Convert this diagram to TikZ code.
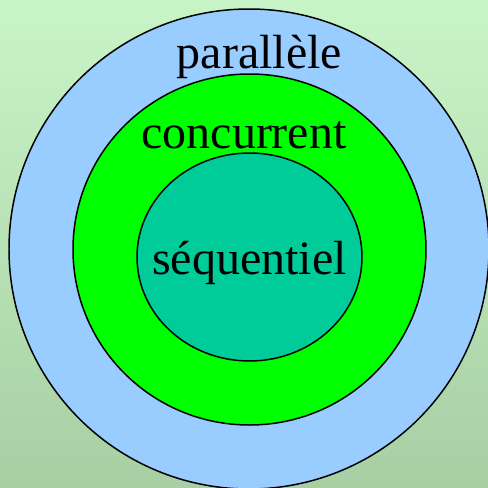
\documentclass[tikz,border=0pt]{standalone}
\usepackage{fontspec}
\setmainfont{Liberation Serif}
\definecolor{bgtop}{RGB}{200,245,200}
\definecolor{bgbot}{RGB}{168,206,164}
\definecolor{paraBlue}{RGB}{153,204,255}
\definecolor{concGreen}{RGB}{0,255,0}
\definecolor{seqTeal}{RGB}{0,204,153}
\begin{document}
\begin{tikzpicture}[
    x=0.02cm, y=-0.02cm,
    ring/.style={draw=black, line width=0.85pt},
    label/.style={anchor=base, inner sep=0pt, font=\fontsize{27.3}{30}\selectfont}
]
    \useasboundingbox (0,0) rectangle (488,488);
    \clip (0,0) rectangle (488,488);
    \shade [top color=bgtop, bottom color=bgbot] (0,0) rectangle (488,488);

    % nested sets
    \draw [ring, fill=paraBlue] (249,249) ellipse (240 and 240);
    \draw [ring, fill=concGreen] (249.5,249.5) ellipse (176.5 and 175.5);
    \draw [ring, fill=seqTeal] (249.5,257) ellipse (112.5 and 104);

    \node [label] (para) at (259.5,68) {parallèle};
    \node [label] (conc) at (244,148) {concurrent};
    \node [label] (seq) at (249.5,274) {séquentiel};
\end{tikzpicture}
\end{document}
